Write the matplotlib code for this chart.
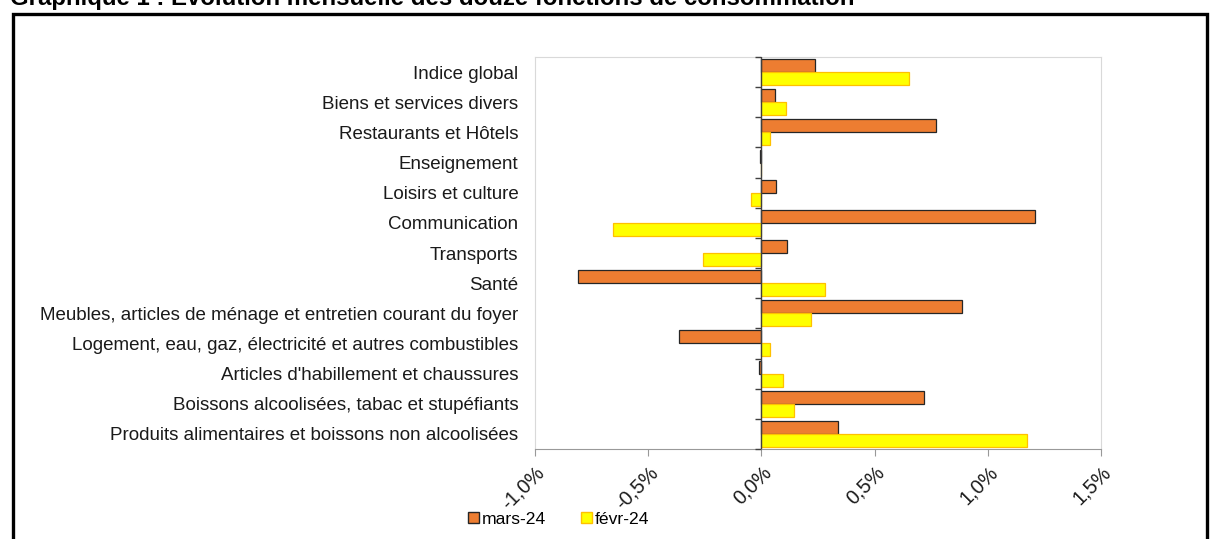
import numpy as np
import matplotlib.pyplot as plt
from matplotlib.patches import Patch, Rectangle

plt.rcParams['font.family'] = ['Liberation Sans', 'DejaVu Sans']

categories = [
    "Produits alimentaires et boissons non alcoolisées",
    "Boissons alcoolisées, tabac et stupéfiants",
    "Articles d'habillement et chaussures",
    "Logement, eau, gaz, électricité et autres combustibles",
    "Meubles, articles de ménage et entretien courant du foyer",
    "Santé",
    "Transports",
    "Communication",
    "Loisirs et culture",
    "Enseignement",
    "Restaurants et Hôtels",
    "Biens et services divers",
    "Indice global",
]
mars24 = [0.337, 0.72, -0.01, -0.363, 0.885, -0.808, 0.114, 1.208, 0.063, -0.007, 0.77, 0.061, 0.235]
fevr24 = [1.171, 0.145, 0.094, 0.039, 0.218, 0.281, -0.26, -0.655, -0.044, 0.0, 0.036, 0.109, 0.652]
xticks = [-1.0, -0.5, 0.0, 0.5, 1.0, 1.5]
xtick_labels = ["-1,0%", "-0,5%", "0,0%", "0,5%", "1,0%", "1,5%"]

W, H = 1210, 539
fig = plt.figure(figsize=(W / 100, H / 100), dpi=100)
ax = fig.add_axes([535 / W, 1 - 449 / H, 566 / W, 392 / H])

y = np.arange(len(categories))
bh = 0.43
ax.barh(y + bh / 2, mars24, height=bh, color='#ED7D31', edgecolor='#262626', linewidth=0.9)
ax.barh(y - bh / 2, fevr24, height=bh, color='#FFFF00', edgecolor='#FFC000', linewidth=0.9)

ax.set_xlim(-1.0, 1.5)
ax.set_ylim(-0.5, len(categories) - 0.5)

# zero line with category-boundary ticks
ax.axvline(0, color='#404040', lw=1.0, zorder=3)
bounds = np.arange(len(categories) + 1) - 0.5
ax.plot(np.zeros(len(bounds)), bounds, linestyle='none', marker=0, markersize=4,
        color='#404040', markeredgewidth=1.0, clip_on=False, zorder=3)

ax.set_yticks(y)
ax.set_yticklabels(categories, fontsize=13.5, color='#1a1a1a')
ax.tick_params(axis='y', length=0, pad=12)

ax.set_xticks(xticks)
ax.set_xticklabels(xtick_labels, fontsize=14.3, color='#1a1a1a', rotation=45,
                   ha='right', va='top', rotation_mode='anchor')
ax.tick_params(axis='x', length=5, color='#999999', direction='out', pad=5)

for side in ['top', 'right', 'left']:
    ax.spines[side].set_color('#d9d9d9')
ax.spines['bottom'].set_color('#999999')

fig.legend(handles=[Patch(facecolor='#ED7D31', edgecolor='#262626', label='mars-24'),
                    Patch(facecolor='#FFFF00', edgecolor='#FFC000', label='févr-24')],
           loc='center left', bbox_to_anchor=(452 / W, 1 - 519 / H), ncol=2, frameon=False,
           handlelength=0.65, handleheight=0.65, handletextpad=0.15, columnspacing=2.0,
           fontsize=12.6)

# outer frame
fig.patches.append(Rectangle((13 / W, -0.1), (1207 - 13) / W, 1.1 - 14 / H,
                             transform=fig.transFigure, fill=False, edgecolor='black',
                             linewidth=2.4))

fig.text(10 / W, 1 - 5 / H, "Graphique 1 : Evolution mensuelle des douze fonctions de consommation",
         fontsize=17.3, fontweight='bold', va='baseline', ha='left')

fig.savefig('out.png', dpi=100)
